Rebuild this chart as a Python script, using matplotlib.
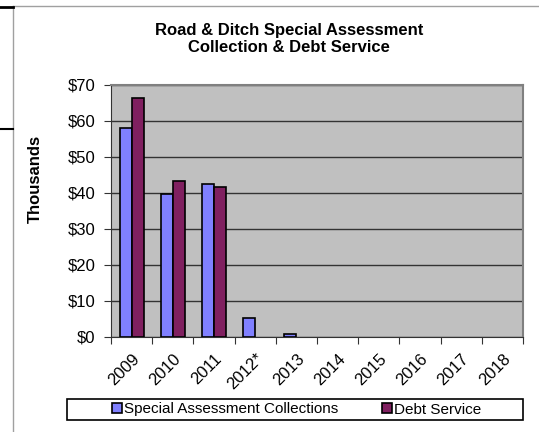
import numpy as np
import matplotlib.pyplot as plt
from matplotlib.lines import Line2D
from matplotlib.patches import Rectangle

plt.rcParams['font.family'] = ['Liberation Sans', 'DejaVu Sans']

years = ['2009', '2010', '2011', '2012*', '2013', '2014', '2015', '2016', '2017', '2018']
collections = [58.0, 39.6, 42.5, 5.3, 0.9, 0, 0, 0, 0, 0]
debt_service = [66.3, 43.4, 41.7, 0, 0, 0, 0, 0, 0, 0]

blue = '#8080FF'
maroon = '#802060'

fig = plt.figure(figsize=(5.39, 4.32), dpi=100)
ax = fig.add_axes([111/539, 1-337/432, (523-111)/539, (337-85)/432])

x = np.arange(len(years))
w = 0.29
# empty years get no bar at all
c = np.array(collections, dtype=float)
d = np.array(debt_service, dtype=float)
mc = c > 0
md = d > 0
ax.bar(x[mc] - w/2, c[mc], w, color=blue, edgecolor='black', linewidth=1.2, zorder=3)
ax.bar(x[md] + w/2, d[md], w, color=maroon, edgecolor='black', linewidth=1.2, zorder=3)

ax.set_facecolor('#C0C0C0')
ax.set_xlim(-0.5, len(years) - 0.5)
ax.set_ylim(0, 70)
ax.set_yticks(range(0, 71, 10))
ax.set_yticklabels(['$%d' % v for v in range(0, 71, 10)], fontsize=12)
ax.yaxis.grid(True, color='#333333', linewidth=1, zorder=1)

# category ticks sit between the groups
ax.set_xticks(np.arange(len(years) + 1) - 0.5)
ax.set_xticklabels([])
ax.set_xticks(x, minor=True)
ax.set_xticklabels(years, minor=True, rotation=45, fontsize=12, ha='right', va='top',
                   rotation_mode='anchor')
ax.tick_params(axis='x', which='minor', length=0, pad=10)
ax.tick_params(axis='x', which='major', length=5, direction='out', color='#333333')
ax.tick_params(axis='y', length=5, direction='out', color='#333333', pad=6)

for side in ['top', 'right']:
    ax.spines[side].set_color('#808080')
    ax.spines[side].set_linewidth(1.5)
for side in ['left', 'bottom']:
    ax.spines[side].set_color('#333333')

fig.text(289/539, 1-30/432, 'Road & Ditch Special Assessment', ha='center', va='center',
         fontsize=12, fontweight='bold')
fig.text(289/539, 1-48/432, 'Collection & Debt Service', ha='center', va='center',
         fontsize=12, fontweight='bold')
fig.text(35/539, 1-179/432, 'Thousands', ha='center', va='center', rotation=90,
         fontsize=12, fontweight='bold')

# legend box
fig.add_artist(Rectangle((67/539, 1-420/432), (523-67)/539, 21/432, transform=fig.transFigure,
                         facecolor='white', edgecolor='black', linewidth=1.2))
handles = [Line2D([], [], marker='s', linestyle='none', markersize=7,
                  markerfacecolor=col, markeredgecolor='black', markeredgewidth=1.2)
           for col in (blue, maroon)]
leg = fig.legend(handles, ['Special Assessment Collections', 'Debt Service'], ncol=2,
                 loc='center', bbox_to_anchor=(297/539, 1-409.5/432),
                 fontsize=11, frameon=False, handlelength=0.6, handletextpad=0.15,
                 columnspacing=2.9, borderaxespad=0, borderpad=0)

# page border decorations around the chart
fig.add_artist(Line2D([13/539, 13/539], [0, 1-6/432], color='#A0A0A0', linewidth=1))
fig.add_artist(Line2D([13/539, 1], [1-6/432, 1-6/432], color='#A0A0A0', linewidth=1))
fig.add_artist(Line2D([0, 13/539], [1-7/432, 1-7/432], color='black', linewidth=2))
fig.add_artist(Line2D([0, 13/539], [1-129/432, 1-129/432], color='black', linewidth=1.5))

fig.savefig('out.png', dpi=100)
